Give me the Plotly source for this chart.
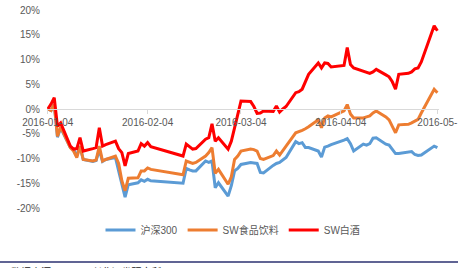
import plotly.graph_objects as go

dates = [
    "2016-01-04", "2016-01-05", "2016-01-06", "2016-01-07", "2016-01-08",
    "2016-01-11", "2016-01-12", "2016-01-13", "2016-01-14", "2016-01-15",
    "2016-01-18", "2016-01-19", "2016-01-20", "2016-01-21", "2016-01-22",
    "2016-01-25", "2016-01-26", "2016-01-27", "2016-01-28", "2016-01-29",
    "2016-02-01", "2016-02-02", "2016-02-03", "2016-02-04", "2016-02-05",
    "2016-02-15", "2016-02-16", "2016-02-17", "2016-02-18", "2016-02-19",
    "2016-02-22", "2016-02-23", "2016-02-24", "2016-02-25", "2016-02-26",
    "2016-02-29", "2016-03-01", "2016-03-02", "2016-03-03", "2016-03-04",
    "2016-03-07", "2016-03-08", "2016-03-09", "2016-03-10", "2016-03-11",
    "2016-03-14", "2016-03-15", "2016-03-16", "2016-03-17", "2016-03-18",
    "2016-03-21", "2016-03-22", "2016-03-23", "2016-03-24", "2016-03-25",
    "2016-03-28", "2016-03-29", "2016-03-30", "2016-03-31", "2016-04-01",
    "2016-04-05", "2016-04-06", "2016-04-07", "2016-04-08",
    "2016-04-11", "2016-04-12", "2016-04-13", "2016-04-14", "2016-04-15",
    "2016-04-18", "2016-04-19", "2016-04-20", "2016-04-21", "2016-04-22",
    "2016-04-25", "2016-04-26", "2016-04-27", "2016-04-28", "2016-04-29",
    "2016-05-03", "2016-05-04",
]

hs300 = [
    0.0, -0.3, 1.0, -5.7, -3.8,
    -7.8, -8.1, -9.5, -7.5, -10.2,
    -10.6, -10.4, -8.3, -10.6, -10.2,
    -9.8, -12.5, -15.5, -17.8, -15.3,
    -14.9, -14.3, -14.6, -14.2, -14.5,
    -15.0, -12.0, -12.3, -12.5, -12.5,
    -10.5, -10.8, -10.5, -15.9, -14.9,
    -17.6, -15.5, -12.5, -12.0, -11.2,
    -10.8, -10.9, -11.0, -12.8, -12.9,
    -11.4, -11.0, -10.8, -10.3, -9.8,
    -6.6, -7.0, -6.8, -7.8, -7.8,
    -8.5, -9.7, -7.7, -7.5, -7.2,
    -6.3, -6.0, -7.0, -8.5,
    -7.1, -7.3, -7.0, -5.9, -5.8,
    -7.1, -7.3, -8.2, -9.0, -9.0,
    -8.8, -8.6, -9.2, -9.4, -9.3,
    -7.5, -7.8,
]

sw_food = [
    0.0, -0.3, 1.0, -5.5, -3.6,
    -7.8, -8.5, -9.8, -7.5, -10.2,
    -10.5, -10.3, -7.5, -10.5, -10.2,
    -9.5, -11.0, -14.5, -16.5, -14.0,
    -13.9, -12.5, -12.5, -11.9, -12.2,
    -13.3, -10.5, -10.8, -11.0, -10.8,
    -9.5, -8.8, -7.8, -13.0, -12.2,
    -15.2, -13.7, -10.2, -9.5, -8.5,
    -8.1, -8.2, -8.5, -10.0, -10.2,
    -9.4, -8.5, -9.3, -8.3, -7.5,
    -4.8, -4.6, -4.3, -4.0, -3.6,
    -2.2, -3.8, -1.8, -1.4, -1.6,
    -0.4, 0.9, -1.0, -1.8,
    -1.8, -1.6, -1.4, -0.8, -0.4,
    -1.6, -2.2, -3.5, -4.8, -3.2,
    -3.1, -2.8, -2.4, -2.1, -0.8,
    4.0, 3.3,
]

sw_baijiu = [
    0.0, 1.0, 2.3, -3.5, -2.8,
    -7.5, -8.1, -8.0, -5.8, -8.5,
    -8.0, -7.8, -3.8, -7.5, -7.2,
    -6.5, -8.0, -8.8, -11.5, -9.0,
    -8.5, -7.0, -7.5, -6.8, -7.6,
    -9.5, -7.1, -7.6, -8.1, -8.0,
    -6.1, -5.8, -3.0, -6.5, -5.8,
    -8.1, -6.5, -3.8, -1.0, 1.6,
    1.5, 0.5, -0.9, -0.8, -0.4,
    -0.5, 0.6, -0.6, 0.0, 0.5,
    3.3, 3.5, 4.0, 5.5, 7.0,
    9.3, 8.3, 9.3, 9.2, 8.5,
    8.8, 12.4, 9.0, 8.3,
    7.7, 7.5, 7.2, 7.5, 8.0,
    6.9, 6.5, 5.5, 4.0, 7.0,
    7.2, 7.5, 8.1, 8.3, 9.5,
    16.8, 15.8,
]

series_names = ["沪深300", "SW食品饮料", "SW白酒"]
series_colors = ["#5B9BD5", "#ED7D31", "#FF0000"]
x_tickvals = ["2016-01-04", "2016-02-04", "2016-03-04", "2016-04-04", "2016-05-04"]
x_ticktext = ["2016-01-04", "2016-02-04", "2016-03-04", "2016-04-04", "2016-05-"]
y_tickvals = [-20, -15, -10, -5, 0, 5, 10, 15, 20]
y_ticktext = ["-20%", "-15%", "-10%", "-5%", "0%", "5%", "10%", "15%", "20%"]
source_text = "数据来源：wind，兴业证券研究所"

FONT = "Liberation Sans, Noto Sans CJK SC, sans-serif"
GRAY = "#595959"

L, R, T, B = 47, 33, 10, 60
W, H = 472, 268
PW, PH = W - L - R, H - T - B


def px_to_paper_y(py):
    return (H - B - py) / PH


def px_to_paper_x(px):
    return (px - L) / PW


fig = go.Figure()
for name, vals, col in zip(series_names, [hs300, sw_food, sw_baijiu], series_colors):
    fig.add_trace(go.Scatter(
        x=dates, y=vals, mode="lines", name=name,
        line=dict(color=col, width=3),
    ))

fig.update_layout(
    width=W, height=H,
    margin=dict(l=L, r=R, t=T, b=B, autoexpand=False),
    paper_bgcolor="white", plot_bgcolor="white",
    font=dict(family=FONT, size=10, color=GRAY),
    showlegend=True,
    legend=dict(
        orientation="h", xref="paper", yref="paper",
        x=px_to_paper_x(233), xanchor="center",
        y=px_to_paper_y(230), yanchor="middle",
        font=dict(size=10, color=GRAY), itemwidth=30,
        bgcolor="rgba(0,0,0,0)",
    ),
    xaxis=dict(
        type="date",
        range=["2016-01-03 18:00", "2016-05-04 12:00"],
        anchor="free", position=0.5,
        showgrid=False, zeroline=False,
        showline=True, linecolor="#D9D9D9", linewidth=1,
        ticks="outside", ticklen=4, tickcolor="#D9D9D9",
        tickmode="array", tickvals=x_tickvals, ticktext=x_ticktext,
        tickfont=dict(size=10, color=GRAY),
    ),
    yaxis=dict(
        range=[-20, 20],
        showgrid=False, zeroline=False, showline=False,
        tickmode="array", tickvals=y_tickvals, ticktext=y_ticktext,
        ticks="",
        tickfont=dict(size=10, color=GRAY),
        ticklabelstandoff=6,
    ),
)

fig.add_shape(
    type="line", xref="paper", yref="paper",
    x0=px_to_paper_x(0), x1=px_to_paper_x(458),
    y0=px_to_paper_y(262), y1=px_to_paper_y(262),
    line=dict(color="#2B3070", width=1.5),
)

fig.add_annotation(
    text=source_text, xref="paper", yref="paper",
    x=px_to_paper_x(9), y=px_to_paper_y(264),
    xanchor="left", yanchor="top", showarrow=False,
    font=dict(size=10, color="#222222", family=FONT),
)

fig.write_html("out.html")
